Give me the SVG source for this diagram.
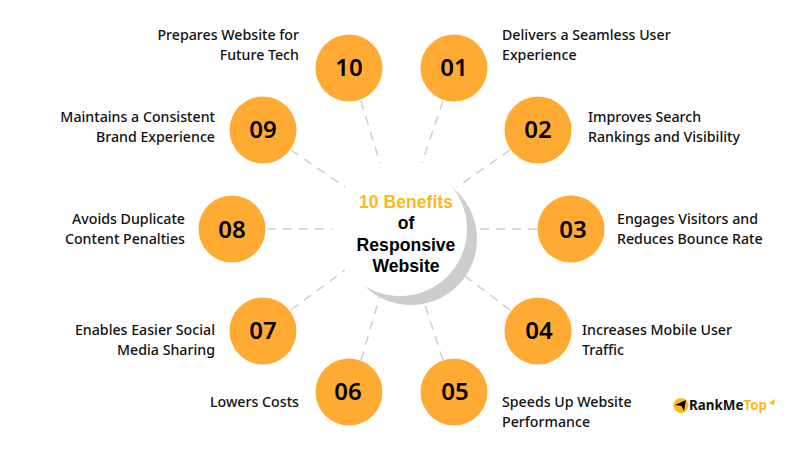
<svg xmlns="http://www.w3.org/2000/svg" width="800" height="450" viewBox="0 0 800 450">
<style>
.n{fill:#ffab33}
.d{font:600 24px "Noto Sans",sans-serif;fill:#000;text-anchor:middle}
.l{font:500 14.2px "Noto Sans",sans-serif;fill:#111}
.e{text-anchor:end}
.c{font:700 17.6px "Liberation Sans",sans-serif;text-anchor:middle;fill:#000}
#connectors line{stroke:#cfcfcf;stroke-width:1.5;stroke-dasharray:9 7}
</style>
<rect width="800" height="450" fill="#fff"/>
<g id="hub">
<circle cx="411" cy="239" r="66" fill="#cdcdcd"/>
<circle cx="400" cy="229" r="67" fill="#fff"/>
</g>
<g id="connectors">
<line x1="361" y1="101" x2="380" y2="163"/>
<line x1="443" y1="101" x2="422" y2="163"/>
<line x1="510" y1="150" x2="457" y2="187"/>
<line x1="537" y1="229" x2="472" y2="229"/>
<line x1="510" y1="310" x2="457" y2="270"/>
<line x1="443" y1="360" x2="422" y2="296"/>
<line x1="361" y1="360" x2="380" y2="296"/>
<line x1="291" y1="310" x2="345" y2="270"/>
<line x1="267" y1="229" x2="332" y2="229"/>
<line x1="291" y1="150" x2="345" y2="187"/>
</g>
<g id="title">
<text class="c" x="406" y="208" style="fill:#fcb91e">10 Benefits</text>
<text class="c" x="406" y="229.300">of</text>
<text class="c" x="406" y="250.600">Responsive</text>
<text class="c" x="406" y="272">Website</text>
</g>
<g id="n01"><circle class="n" cx="454" cy="68" r="33.5"/><text class="d" x="454" y="76">01</text><text class="l" x="502" y="40">Delivers a Seamless User</text><text class="l" x="502" y="60">Experience</text></g>
<g id="n02"><circle class="n" cx="538" cy="130" r="33.5"/><text class="d" x="538" y="138">02</text><text class="l" x="588" y="122">Improves Search</text><text class="l" x="588" y="142">Rankings and Visibility</text></g>
<g id="n03"><circle class="n" cx="571" cy="229" r="33.5"/><text class="d" x="573" y="238">03</text><text class="l" x="617" y="224">Engages Visitors and</text><text class="l" x="617" y="244">Reduces Bounce Rate</text></g>
<g id="n04"><circle class="n" cx="538" cy="331" r="33.5"/><text class="d" x="539" y="339">04</text><text class="l" x="582" y="335">Increases Mobile User</text><text class="l" x="582" y="355">Traffic</text></g>
<g id="n05"><circle class="n" cx="454" cy="392" r="33.5"/><text class="d" x="455" y="400">05</text><text class="l" x="502" y="407">Speeds Up Website</text><text class="l" x="502" y="427">Performance</text></g>
<g id="n06"><circle class="n" cx="349" cy="392" r="33.5"/><text class="d" x="348" y="400">06</text><text class="l e" x="299" y="407">Lowers Costs</text></g>
<g id="n07"><circle class="n" cx="263" cy="331" r="33.5"/><text class="d" x="263" y="339">07</text><text class="l e" x="215" y="335">Enables Easier Social</text><text class="l e" x="215" y="355">Media Sharing</text></g>
<g id="n08"><circle class="n" cx="232" cy="229" r="33.5"/><text class="d" x="232" y="238">08</text><text class="l e" x="185" y="224">Avoids Duplicate</text><text class="l e" x="185" y="244">Content Penalties</text></g>
<g id="n09"><circle class="n" cx="263" cy="130" r="33.5"/><text class="d" x="263" y="138">09</text><text class="l e" x="215" y="122">Maintains a Consistent</text><text class="l e" x="215" y="142">Brand Experience</text></g>
<g id="n10"><circle class="n" cx="349" cy="68" r="33.5"/><text class="d" x="349" y="76">10</text><text class="l e" x="299" y="40">Prepares Website for</text><text class="l e" x="299" y="60">Future Tech</text></g>
<g id="logo">
<circle cx="681" cy="405.500" r="7.500" fill="#fcb91e"/>
<path d="M675 405 L686 400 L684 411 L681.500 406Z" fill="#000"/>
<text x="689" y="410" style="font:700 13.400px 'Noto Sans',sans-serif"><tspan fill="#111">RankMe</tspan><tspan fill="#fcb91e">Top</tspan></text>
<path d="M769 403 L775 399 L774 405Z" fill="#fcb91e"/>
</g>
</svg>
